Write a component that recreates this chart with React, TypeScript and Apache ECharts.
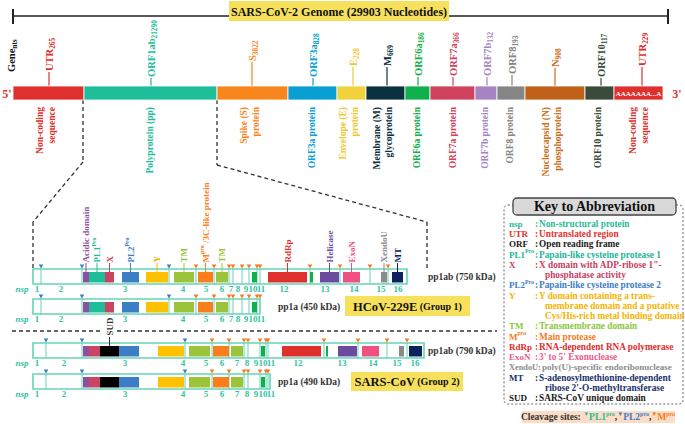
import React, { useEffect, useRef } from 'react';
import * as echarts from 'echarts';

const W = 685;
const H = 424;
const SERIF = '"Liberation Serif","DejaVu Serif",serif';

// ===== Genome (layout axis: 0..685 across, 0..424 down) =====
const genomeGenes = ['UTR', 'ORF1ab', 'S', 'ORF3a', 'E', 'M', 'ORF6a', 'ORF7a', 'ORF7b', 'ORF8', 'N', 'ORF10', 'UTR'];
const genomeNts = ['265', '21290', '3822', '828', '228', '669', '186', '366', '132', '193', '908', '117', '229'];
const genomeEdges = [13, 84, 217, 288, 337, 366, 405, 430, 475, 497, 525, 585, 614, 663];
const genomeStemX = [49, 151, 252, 313, 353, 387, 418, 453, 487, 512, 555, 601, 642];
const genomeStemTop = [72, 78, 62, 78, 67, 67, 77, 77, 77, 75, 68, 78, 67];
const genomeProducts = [
  'Non-coding\nsequence', 'Polyprotein (pp)', 'Spike (S)\nprotein', 'ORF3a protein', 'Envelope (E)\nprotein',
  'Membrane (M)\nglycoprotein', 'ORF6a protein', 'ORF7a protein', 'ORF7b protein', 'ORF8 protein',
  'Nucleocapsid (N)\nphosphoprotein', 'ORF10 protein', 'Non-coding\nsequence',
];
const genomeProductX = [46, 150, 250, 312, 349, 383, 417, 453, 485, 510, 552, 598, 639];
const genomeFill = ['#e0302e', '#1fbe9b', '#f7861c', '#0a9fd2', '#f2d23c', '#0b3040', '#10b04c', '#d0435f', '#a684c4', '#858585', '#c0611a', '#3b4b3b', '#e0302e'];
const genomeInk = ['#e0302e', '#1fbe9b', '#f7861c', '#0a9fd2', '#f0c832', '#0b3040', '#10b04c', '#d0435f', '#a684c4', '#858585', '#c8701e', '#3b4b3b', '#e0302e'];

// ===== Polyprotein rows =====
const ppRowNames = ['pp1ab (750 kDa)', 'pp1a (450 kDa)', 'pp1ab (790 kDa)', 'pp1a (490 kDa)'];
const ppRowTop = [269, 299, 343, 374];
const ppRowEnd = [407, 260, 424, 270];
const ppRowSites = [15, 11, 14, 10];
const ppRowDomains = [15, 9, 15, 9];
const ppRowNsp = [16, 11, 16, 11];
const groupNames = ['HCoV-229E', 'SARS-CoV'];
const groupTags = ['(Group 1)', '(Group 2)'];

const hcovSites = [41, 82, 169, 196, 214, 229, 233, 242, 249, 257, 260, 310, 340, 370, 388];
const hcovSiteEnzyme = ['PL2', 'PL2', 'PL2', 'M', 'M', 'M', 'M', 'M', 'M', 'M', 'M', 'M', 'M', 'M', 'M'];
const hcovDomains = ['acidic', 'pl1', 'x', 'pl2', 'y', 'tm', 'mpro', 'tm', 'g', 'rdrp', 'g', 'hel', 'exon', 'xendou', 'mt'];
const hcovDomainStart = [83, 89, 105, 122, 146, 174, 198, 216, 252, 268, 310, 320, 343, 381, 392];
const hcovDomainEnd = [89, 105, 114, 139, 168, 194, 213, 228, 257, 307, 313, 339, 360, 387, 403];
const hcovNspX = [37, 61, 125, 183, 206, 222, 231, 238, 246, 253, 261, 284, 325, 354, 381, 398];

const sarsSites = [46, 82, 185, 212, 229, 244, 248, 260, 266, 268, 324, 358, 387, 407];
const sarsSiteEnzyme = ['PL2', 'PL2', 'PL2', 'M', 'M', 'M', 'M', 'M', 'M', 'M', 'M', 'M', 'M', 'M'];
const sarsDomains = ['acidic', 'x', 'sud', 'pl2', 'y', 'tm', 'mpro', 'tm', 'g', 'rdrp', 'g', 'hel', 'exon', 'xendou', 'mt'];
const sarsDomainStart = [83, 89, 100, 119, 158, 189, 213, 231, 261, 282, 326, 338, 362, 399, 409];
const sarsDomainEnd = [89, 100, 119, 139, 184, 210, 229, 243, 265, 321, 328, 357, 379, 404, 422];
const sarsNspX = [37, 64, 125, 183, 206, 222, 237, 247, 256, 263, 271, 298, 342, 373, 397, 415];

// ===== Key =====
const keyAbbrevs = ['nsp', 'UTR', 'ORF', 'PL1', 'X', 'PL2', 'Y', 'TM', 'M', 'RdRp', 'ExoN', 'XendoU', 'MT', 'SUD'];
const keyAbbrevSup = ['', '', '', 'Pro', '', 'Pro', '', '', 'pro', '', '', '', '', ''];
const keyMeanings = [
  ['Non-structural protein'], ['Untranslated region'], ['Open reading frame'], ['Papain-like cysteine protease 1'],
  ['X domain with ADP-ribose 1"-', 'phosphatase activity'], ['Papain-like cysteine protease 2'],
  ['Y domain containing a trans-', 'membrane domain and a putative', 'Cys/His-rich metal binding domain'],
  ['Transmembrane domain'], ['Main protease'], ['RNA-dependent RNA polymerase'], ["3' to 5' Exonuclease"],
  ['poly(U)-specific endoribonuclease'], ['S-adenosylmethionine-dependent', "ribose 2'-O-methyltransferase"],
  ['SARS-CoV unique domain'],
];
const keyColors = ['#2bb99a', '#e4322f', '#1a1a1a', '#22b59a', '#c9405f', '#3c7ec6', '#f5b400', '#8dc63f', '#f47b20', '#e32b2b', '#ef5a8f', '#8c8c8c', '#1b2f6b', '#1a1a1a'];

// ===== styles =====
const domainColor: Record<string, string> = {
  acidic: '#8d4f9f', pl1: '#1fbe9b', x: '#cc4463', sud: '#000000', pl2: '#3c7ec6', y: '#ffc000', tm: '#9cc43b',
  mpro: '#fb7d1c', g: '#10b04c', rdrp: '#e0302e', hel: '#6b4aa0', exon: '#f0507f', xendou: '#8a8a8a', mt: '#0e215f',
};
const domainInk: Record<string, string> = { ...domainColor, y: '#f5b400', sud: '#333333' };
const domainLabel: Record<string, string> = {
  acidic: '{m|Acidic domain}', pl1: '{m|PL1}{p|Pro}', x: '{m|X}', pl2: '{m|PL2}{p|Pro}', y: '{m|Y}', tm: '{m|TM}',
  mpro: '{m|M}{p|pro}{m| /3C-like protein}', rdrp: '{m|RdRp}', hel: '{m|Helicase}', exon: '{m|ExoN}',
  xendou: '{m|XendoU}', mt: '{m|MT}', sud: '{m|SUD}',
};
const enzymeColor: Record<string, string> = { PL1: '#1fbe9b', PL2: '#3c7ec6', M: '#f47b20' };
const OUTLINE = '#66d3b6';
const NSP_INK = '#33c2a4';
const YELLOW = '#f7e15c';

type RectSpec = { c: number[]; fill?: string; stroke?: string; lw?: number; dash?: number[]; r?: number };
type LineSpec = { c: number[]; stroke: string; lw?: number; dash?: number[] };
type TriSpec = { c: number[]; fill: string };
type TextSpec = {
  c: number[]; text: string; fill?: string; size?: number; italic?: boolean; align?: string; va?: string;
  rot?: number; lh?: number; rich?: any; bg?: string; pad?: number[];
};

const richSet = (F: number, color: string) => ({
  m: { fontSize: F, fontFamily: SERIF, fontWeight: 'bold', fill: color, color, lineHeight: F + 4, verticalAlign: 'middle' },
  s: { fontSize: F * 0.7, fontFamily: SERIF, fontWeight: 'bold', fill: color, color, lineHeight: F * 0.7, verticalAlign: 'bottom' },
  p: { fontSize: F * 0.65, fontFamily: SERIF, fontWeight: 'bold', fill: color, color, lineHeight: F * 0.65, verticalAlign: 'top' },
});

function buildOption() {
  const bgRects: RectSpec[] = [];
  const lines: LineSpec[] = [];
  const fgRects: RectSpec[] = [];
  const tris: TriSpec[] = [];
  const texts: TextSpec[] = [];

  // title + bracket
  lines.push({ c: [13, 16, 668, 16], stroke: '#222', lw: 1.5 });
  lines.push({ c: [13, 9, 13, 24], stroke: '#222', lw: 2 });
  lines.push({ c: [668, 9, 668, 24], stroke: '#222', lw: 2 });
  fgRects.push({ c: [229, 1, 449, 21], fill: YELLOW });
  texts.push({ c: [339, 11.5], text: 'SARS-CoV-2 Genome (29903 Nucleotides)', fill: '#111', size: 12 });

  // genome bar
  texts.push({ c: [11, 72], text: '{m|Gene}{s|nts}', rot: 90, align: 'left', rich: richSet(10.5, '#111') });
  genomeGenes.forEach((g, i) => {
    fgRects.push({ c: [genomeEdges[i], 86, genomeEdges[i + 1], 100], fill: genomeFill[i], stroke: '#ffffff', lw: 0.8 });
    lines.push({ c: [genomeStemX[i], 86, genomeStemX[i], genomeStemTop[i]], stroke: genomeInk[i], lw: 1.2 });
    texts.push({
      c: [genomeStemX[i], genomeStemTop[i] - 1], text: `{m|${g}}{s|${genomeNts[i]}}`, rot: 90, align: 'left',
      rich: richSet(10.5, genomeInk[i]),
    });
    texts.push({
      c: [genomeProductX[i], 107], text: genomeProducts[i], rot: 90, align: 'right', fill: genomeInk[i], size: 9.5, lh: 12.5,
    });
  });
  const lastUTR = genomeEdges.length - 2;
  texts.push({ c: [(genomeEdges[lastUTR] + genomeEdges[lastUTR + 1]) / 2, 93.5], text: 'AAAAAAA...A', fill: '#fff', size: 7 });
  texts.push({ c: [7, 93.5], text: "5'", fill: '#e0302e', size: 12 });
  texts.push({ c: [677, 93.5], text: "3'", fill: '#e0302e', size: 12 });

  // dashed connectors
  const dash = [4, 3];
  [[83, 100, 83, 162], [83, 162, 33, 222], [33, 222, 33, 268], [217, 100, 217, 165], [217, 165, 427, 222], [427, 222, 427, 268], [12, 331, 497, 331]]
    .forEach((c) => lines.push({ c, stroke: '#333', lw: 1.3, dash }));

  // polyprotein rows
  const ppNameX = [428, 278, 428, 278];
  ppRowTop.forEach((top, r) => {
    const isHcov = r < 2;
    const sites = isHcov ? hcovSites : sarsSites;
    const enz = isHcov ? hcovSiteEnzyme : sarsSiteEnzyme;
    const doms = isHcov ? hcovDomains : sarsDomains;
    const ds = isHcov ? hcovDomainStart : sarsDomainStart;
    const de = isHcov ? hcovDomainEnd : sarsDomainEnd;
    const nx = isHcov ? hcovNspX : sarsNspX;
    const end = ppRowEnd[r];
    bgRects.push({ c: [33, top, end, top + 15], fill: '#ffffff', stroke: OUTLINE, lw: 1.6 });
    sites.slice(0, ppRowSites[r]).forEach((x, k) => {
      if (x < end) lines.push({ c: [x, top, x, top + 15], stroke: OUTLINE, lw: 1 });
      tris.push({ c: [x, top], fill: enzymeColor[enz[k]] });
    });
    doms.slice(0, ppRowDomains[r]).forEach((d, k) => {
      fgRects.push({ c: [ds[k], top + 3, de[k], top + 13.5], fill: domainColor[d] });
      const cx = (ds[k] + de[k]) / 2;
      const labelled = (r === 0 && d !== 'g') || (r === 2 && d === 'sud');
      if (labelled) {
        lines.push({ c: [cx, top - 6, cx, top + 3], stroke: domainInk[d], lw: 1 });
        texts.push({
          c: [cx, top - 6.5], text: domainLabel[d], rot: 90, align: 'left', rich: richSet(9, domainInk[d]),
          bg: d === 'sud' ? '#ffffff' : undefined, pad: d === 'sud' ? [0, 1, 0, 1] : undefined,
        });
      }
    });
    texts.push({ c: [22, top + 19.5], text: 'nsp', fill: NSP_INK, size: 9, italic: true });
    nx.slice(0, ppRowNsp[r]).forEach((x, k) => {
      texts.push({ c: [x, top + 19.5], text: String(k + 1), fill: NSP_INK, size: 9 });
    });
    texts.push({ c: [ppNameX[r], top + 8], text: ppRowNames[r], fill: '#333', size: 9.5, align: 'left' });
  });

  // group boxes
  fgRects.push({ c: [345, 296, 470, 316], fill: YELLOW });
  fgRects.push({ c: [351, 372, 463, 391], fill: YELLOW });
  [[407.5, 306.5], [407, 381.5]].forEach((c, i) => {
    texts.push({
      c, text: `{g|${groupNames[i]}} {t|${groupTags[i]}}`,
      rich: {
        g: { fontSize: 12.5, fontFamily: SERIF, fontWeight: 'bold', fill: '#111', color: '#111' },
        t: { fontSize: 10, fontFamily: SERIF, fontWeight: 'bold', fill: '#111', color: '#111' },
      },
    });
  });

  // key
  bgRects.push({ c: [504, 205, 683, 404], fill: '#ffffff', stroke: '#666', lw: 1, dash: [2, 2], r: 4 });
  fgRects.push({ c: [513, 198, 676, 215], fill: '#d9d9d9', stroke: '#444', lw: 1.3, r: 4 });
  texts.push({ c: [594.5, 206.5], text: 'Key to Abbreviation', fill: '#111', size: 14 });
  const keyTop = 224;
  const keyGap = 10.24;
  const abbrSize = 9;
  const meaningSize = 9.3;
  let line = 0;
  keyAbbrevs.forEach((ab, i) => {
    const y = keyTop + line * keyGap;
    const col = keyColors[i];
    const wide = ab.length > 4;
    const abText = keyAbbrevSup[i] ? `{m|${ab}}{p|${keyAbbrevSup[i]}}` : `{m|${ab}${wide ? ':' : ''}}`;
    texts.push({ c: [509, y], text: abText, align: 'left', rich: richSet(wide ? 8.3 : abbrSize, col) });
    if (!wide) texts.push({ c: [535, y], text: ':', fill: col, size: meaningSize, align: 'left' });
    keyMeanings[i].forEach((ln, j) => {
      texts.push({
        c: [j === 0 ? (wide ? 542 : 539) : 545, keyTop + (line + j) * keyGap], text: ln, fill: col,
        size: wide ? 9 : meaningSize, align: 'left',
      });
    });
    line += keyMeanings[i].length;
  });
  fgRects.push({ c: [522, 411, 675, 423], fill: '#fbdcc6' });
  const rs = (size: number, color: string, va = 'middle') => ({ fontSize: size, fontFamily: SERIF, fontWeight: 'bold', fill: color, color, verticalAlign: va, lineHeight: size + 3 });
  texts.push({
    c: [598, 417],
    text: '{d|Cleavage sites: }{at|▼}{a|PL1}{ap|pro}{d|,}{bt|▼}{b|PL2}{bp|pro}{d|,}{ct|▼}{c|M}{cp|pro}',
    rich: {
      d: rs(9.5, '#333'),
      at: rs(6, '#1fbe9b', 'top'), a: rs(9.5, '#1fbe9b'), ap: rs(6, '#1fbe9b', 'top'),
      bt: rs(6, '#3c7ec6', 'top'), b: rs(9.5, '#3c7ec6'), bp: rs(6, '#3c7ec6', 'top'),
      ct: rs(6, '#f47b20', 'top'), c: rs(9.5, '#f47b20'), cp: rs(6, '#f47b20', 'top'),
    },
  });

  const base = { type: 'custom', coordinateSystem: 'cartesian2d', silent: true, clip: false, progressive: 0 };
  const rectSeries = (specs: RectSpec[]) => ({
    ...base,
    data: specs.map((s) => s.c),
    renderItem: (params: any, api: any) => {
      const s = specs[params.dataIndex];
      const p0 = api.coord([api.value(0), api.value(1)]);
      const p1 = api.coord([api.value(2), api.value(3)]);
      const style: any = { fill: s.fill || 'none', stroke: s.stroke || 'none', lineWidth: s.lw || 0 };
      if (s.dash) style.lineDash = s.dash;
      return {
        type: 'rect',
        shape: { x: Math.min(p0[0], p1[0]), y: Math.min(p0[1], p1[1]), width: Math.abs(p1[0] - p0[0]), height: Math.abs(p1[1] - p0[1]), r: s.r || 0 },
        style,
      };
    },
  });
  const lineSeries = (specs: LineSpec[]) => ({
    ...base,
    data: specs.map((s) => s.c),
    renderItem: (params: any, api: any) => {
      const s = specs[params.dataIndex];
      const p0 = api.coord([api.value(0), api.value(1)]);
      const p1 = api.coord([api.value(2), api.value(3)]);
      const style: any = { stroke: s.stroke, lineWidth: s.lw || 1 };
      if (s.dash) style.lineDash = s.dash;
      return { type: 'line', shape: { x1: p0[0], y1: p0[1], x2: p1[0], y2: p1[1] }, style };
    },
  });
  const triSeries = (specs: TriSpec[]) => ({
    ...base,
    data: specs.map((s) => s.c),
    renderItem: (params: any, api: any) => {
      const s = specs[params.dataIndex];
      const p = api.coord([api.value(0), api.value(1)]);
      return {
        type: 'polygon',
        shape: { points: [[p[0] - 2.3, p[1] - 4.6], [p[0] + 2.3, p[1] - 4.6], [p[0], p[1] - 0.6]] },
        style: { fill: s.fill },
      };
    },
  });
  const textSeries = (specs: TextSpec[]) => ({
    ...base,
    data: specs.map((s) => s.c),
    renderItem: (params: any, api: any) => {
      const s = specs[params.dataIndex];
      const p = api.coord([api.value(0), api.value(1)]);
      const style: any = {
        text: s.text, fill: s.fill || '#222', fontSize: s.size || 9, fontFamily: SERIF, fontWeight: 'bold',
        fontStyle: s.italic ? 'italic' : 'normal', align: s.align || 'center', verticalAlign: s.va || 'middle',
      };
      if (s.lh) style.lineHeight = s.lh;
      if (s.rich) style.rich = s.rich;
      if (s.bg) style.backgroundColor = s.bg;
      if (s.pad) style.padding = s.pad;
      return { type: 'text', x: p[0], y: p[1], rotation: s.rot ? (s.rot * Math.PI) / 180 : 0, style };
    },
  });

  return {
    animation: false,
    backgroundColor: '#ffffff',
    grid: { left: 0, right: 0, top: 0, bottom: 0 },
    xAxis: { type: 'value', min: 0, max: W, show: false },
    yAxis: { type: 'value', min: 0, max: H, show: false, inverse: true },
    series: [rectSeries(bgRects), lineSeries(lines), rectSeries(fgRects), triSeries(tris), textSeries(texts)],
  };
}

export default function App() {
  const ref = useRef<HTMLDivElement>(null);
  useEffect(() => {
    const chart = echarts.init(ref.current!, undefined, { renderer: 'svg' });
    chart.setOption(buildOption() as any);
    return () => chart.dispose();
  }, []);
  return <div ref={ref} style={{ position: 'fixed', left: 0, top: 0, width: W, height: H, background: '#fff' }} />;
}
